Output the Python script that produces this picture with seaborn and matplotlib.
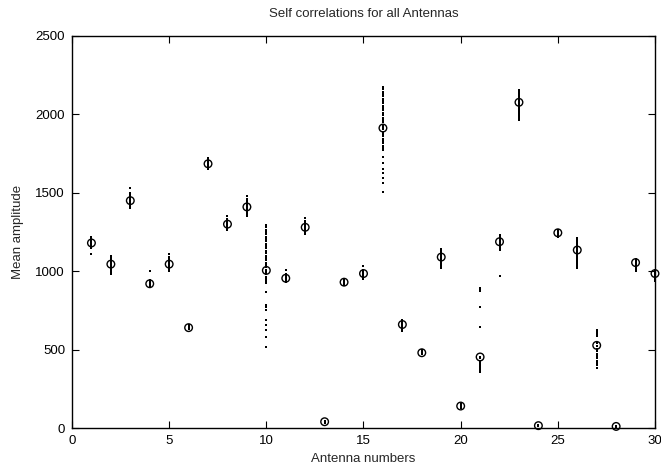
import matplotlib
matplotlib.use("Agg")
import matplotlib.pyplot as plt
import seaborn as sns
import pandas as pd

antennas = list(range(1, 31))
mean_amp = [1180, 1045, 1450, 920, 1045, 640, 1685, 1300, 1410, 1005,
            955, 1280, 40, 930, 985, 1913, 660, 480, 1090, 140,
            453, 1188, 2077, 15, 1245, 1135, 527, 10, 1055, 985]

samples = [
    [1220, 1210, 1200, 1195, 1190, 1185, 1180, 1175, 1170, 1165, 1160, 1150, 1110],
    [1100, 1090, 1080, 1070, 1060, 1050, 1040, 1030, 1020, 1010, 1000, 990, 980],
    [1530, 1500, 1490, 1480, 1470, 1460, 1450, 1440, 1430, 1420, 1410, 1400],
    [1000, 945, 940, 935, 930, 925, 920, 915, 910, 905, 900],
    [1110, 1090, 1080, 1070, 1060, 1050, 1040, 1030, 1020, 1010, 1000],
    [655, 650, 645, 640, 635, 630],
    [1720, 1710, 1700, 1690, 1685, 1680, 1670, 1660, 1650],
    [1350, 1335, 1325, 1315, 1305, 1300, 1290, 1280, 1270, 1260],
    [1480, 1460, 1445, 1435, 1425, 1415, 1405, 1395, 1385, 1375, 1365, 1355],
    [1295, 1280, 1265, 1250, 1235, 1220, 1205, 1190, 1175, 1160, 1145, 1130,
     1115, 1100, 1085, 1070, 1055, 1040, 1025, 1010, 995, 980, 965, 950, 935,
     925, 868, 785, 770, 753, 689, 657, 625, 580, 517],
    [1010, 980, 975, 970, 965, 960, 955, 950, 945, 940, 935, 930],
    [1340, 1320, 1310, 1300, 1290, 1280, 1270, 1260, 1250, 1240],
    [45, 40, 35],
    [950, 945, 940, 935, 930, 925, 920, 915, 910],
    [1030, 1010, 1000, 990, 985, 980, 970, 960, 950],
    [2175, 2160, 2145, 2130, 2115, 2100, 2085, 2070, 2055, 2040, 2025, 2010,
     1995, 1980, 1965, 1950, 1935, 1920, 1905, 1890, 1875, 1860, 1845, 1830,
     1815, 1800, 1785, 1773, 1728, 1690, 1652, 1626, 1594, 1563, 1505],
    [690, 680, 675, 670, 665, 660, 655, 650, 640, 630, 620],
    [500, 495, 490, 485, 480, 475, 470],
    [1140, 1130, 1120, 1110, 1100, 1090, 1080, 1070, 1060, 1050, 1040, 1030, 1020],
    [150, 145, 140, 135, 130],
    [893, 885, 874, 772, 644, 455, 445, 430, 414, 405, 395, 385, 375, 365, 357],
    [1231, 1220, 1210, 1200, 1195, 1190, 1185, 1180, 1170, 1160, 1150, 1135, 970],
    [2156, 2145, 2135, 2125, 2115, 2105, 2095, 2085, 2075, 2065, 2055, 2045,
     2035, 2025, 2015, 2005, 1995, 1985, 1975, 1964],
    [20, 15, 10],
    [1260, 1255, 1250, 1245, 1240, 1235, 1230, 1220],
    [1212, 1200, 1190, 1180, 1170, 1160, 1150, 1140, 1135, 1120, 1110, 1100,
     1090, 1080, 1070, 1060, 1050, 1040, 1030, 1020],
    [625, 615, 605, 595, 585, 540, 520, 505, 490, 475, 460, 445, 430, 415, 400, 383],
    [15, 10, 5],
    [1080, 1075, 1070, 1065, 1060, 1055, 1050, 1040, 1030, 1020, 1010, 1000],
    [1010, 1000, 995, 990, 985, 980, 970, 960, 950, 940],
]

rows = [(a, v) for a, vals in zip(antennas, samples) for v in vals]
df_samples = pd.DataFrame(rows, columns=["antenna", "amplitude"])
df_mean = pd.DataFrame({"antenna": antennas, "amplitude": mean_amp})

sns.set_style("ticks")
plt.rcParams["font.family"] = ["Liberation Sans", "DejaVu Sans"]

fig = plt.figure(figsize=(6.61, 4.69), dpi=100)
ax = fig.add_axes([72 / 661, 41 / 469, 583 / 661, 392 / 469])

sns.scatterplot(data=df_samples, x="antenna", y="amplitude", ax=ax,
                marker="s", s=4, color="black", linewidth=0, legend=False,
                clip_on=False)
sns.scatterplot(data=df_mean, x="antenna", y="amplitude", ax=ax,
                marker="o", s=30, facecolor="none", edgecolor="black",
                linewidth=1.0, legend=False, clip_on=False)

ax.set_xlim(0, 30)
ax.set_ylim(0, 2500)
ax.set_xticks([0, 5, 10, 15, 20, 25, 30])
ax.set_yticks([0, 500, 1000, 1500, 2000, 2500])
ax.tick_params(direction="in", length=5, width=0.8, labelsize=9.5,
               top=True, right=True, color="black", labelcolor="black", pad=5)
for sp in ax.spines.values():
    sp.set_color("black")
    sp.set_linewidth(1.0)
    sp.set_zorder(0.5)

ax.set_xlabel("Antenna numbers", fontsize=9.5, labelpad=4)
ax.set_ylabel("Mean amplitude", fontsize=9.5, labelpad=8)
ax.set_title("Self correlations for all Antennas", fontsize=9.5, pad=14)

fig.savefig("out.png", dpi=100)
